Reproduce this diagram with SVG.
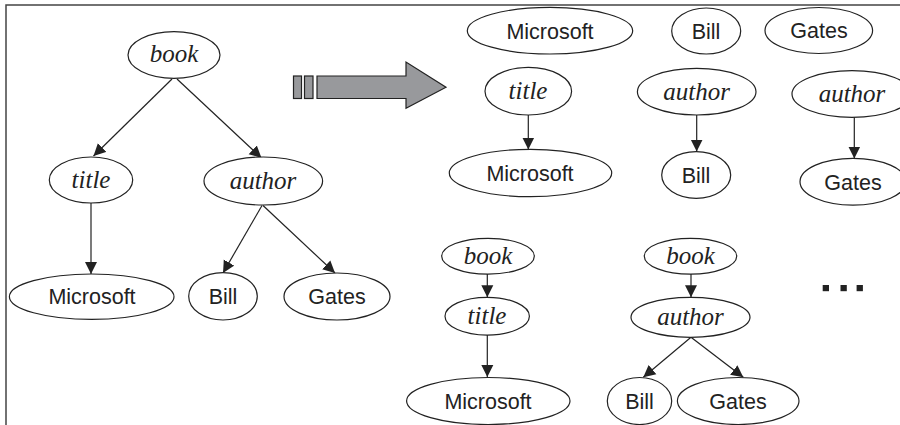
<svg xmlns="http://www.w3.org/2000/svg" width="900" height="425" viewBox="0 0 900 425">
<style>
  .n ellipse { fill: #fff; stroke: #222; stroke-width: 1.2; }
  .it { font-family: "Liberation Serif", "Times New Roman", serif; font-style: italic; font-size: 25px; fill: #222; text-anchor: middle; }
  .sn { font-family: "Liberation Sans", Arial, sans-serif; font-size: 21.5px; fill: #222; text-anchor: middle; }
  .e line { stroke: #222; stroke-width: 1.2; marker-end: url(#ah); }
  .arr { fill: #98999c; stroke: #222; stroke-width: 1.2; }
</style>
<defs>
  <marker id="ah" markerUnits="userSpaceOnUse" markerWidth="13" markerHeight="13" refX="12" refY="6.5" orient="auto">
    <path d="M0,0.5 L12,6.5 L0,12.5 z" fill="#222"/>
  </marker>
</defs>
<rect width="900" height="425" fill="#fff"/>
<g id="frame" stroke="#444" stroke-width="1.5" fill="none">
  <path d="M6,425 V5 H900"/>
</g>
<g id="bigarrow">
  <rect class="arr" x="293.5" y="76" width="8" height="22.5"/>
  <rect class="arr" x="304.5" y="76" width="8.5" height="22.5"/>
  <path class="arr" d="M317,76 H406 V62 L446,87.3 L406,108.3 V98.5 H317 Z"/>
</g>
<g id="connectors" class="e">
  <line x1="172" y1="79" x2="93.5" y2="156"/>
  <line x1="177" y1="79" x2="261.5" y2="158"/>
  <line x1="91" y1="203" x2="91" y2="274"/>
  <line x1="262" y1="205.5" x2="223" y2="273"/>
  <line x1="263" y1="205.5" x2="335" y2="273"/>
  <line x1="528.3" y1="115" x2="528.3" y2="149.5"/>
  <line x1="696.7" y1="115" x2="696.7" y2="151.5"/>
  <line x1="854.3" y1="117.3" x2="854.3" y2="158.5"/>
  <line x1="487.3" y1="274" x2="487.3" y2="297.3"/>
  <line x1="487.3" y1="335" x2="487.3" y2="377"/>
  <line x1="691" y1="274" x2="691" y2="297.3"/>
  <line x1="691" y1="337.3" x2="643.3" y2="377.3"/>
  <line x1="691" y1="337.3" x2="743.3" y2="377.3"/>
</g>
<g id="l-book" class="n"><ellipse cx="174" cy="55" rx="46" ry="23.3"/><text class="it" x="174" y="62">book</text></g>
<g id="l-title" class="n"><ellipse cx="91" cy="180" rx="41.7" ry="23"/><text class="it" x="91" y="188">title</text></g>
<g id="l-author" class="n"><ellipse cx="263.3" cy="181" rx="59.3" ry="24"/><text class="it" x="263" y="189">author</text></g>
<g id="l-microsoft" class="n"><ellipse cx="91.7" cy="296.7" rx="82.3" ry="22.7"/><text class="sn" x="92" y="304.3">Microsoft</text></g>
<g id="l-bill" class="n"><ellipse cx="223" cy="296.3" rx="34.3" ry="23.7"/><text class="sn" x="223" y="304.3">Bill</text></g>
<g id="l-gates" class="n"><ellipse cx="337" cy="296.5" rx="53" ry="23.5"/><text class="sn" x="337" y="304.3">Gates</text></g>

<g id="r-microsoft" class="n"><ellipse cx="550" cy="30.7" rx="82.7" ry="23.3"/><text class="sn" x="550" y="38.5">Microsoft</text></g>
<g id="r-bill" class="n"><ellipse cx="706.2" cy="31" rx="34.5" ry="23"/><text class="sn" x="706" y="38.7">Bill</text></g>
<g id="r-gates" class="n"><ellipse cx="818.8" cy="30.5" rx="53.8" ry="23"/><text class="sn" x="819" y="38.2">Gates</text></g>

<g id="r-title" class="n"><ellipse cx="528.3" cy="91.2" rx="43.3" ry="23.8"/><text class="it" x="528" y="99">title</text></g>
<g id="r-microsoft2" class="n"><ellipse cx="530.5" cy="173" rx="81.2" ry="23.7"/><text class="sn" x="530" y="180.7">Microsoft</text></g>
<g id="r-author1" class="n"><ellipse cx="696.7" cy="91.7" rx="59.3" ry="23.3"/><text class="it" x="696.7" y="99.5">author</text></g>
<g id="r-bill2" class="n"><ellipse cx="696.2" cy="175" rx="34.5" ry="23.3"/><text class="sn" x="696" y="182.7">Bill</text></g>
<g id="r-author2" class="n"><ellipse cx="852" cy="94" rx="60" ry="23.3"/><text class="it" x="852" y="102">author</text></g>
<g id="r-gates2" class="n"><ellipse cx="853" cy="181.7" rx="53" ry="23.4"/><text class="sn" x="853" y="189.5">Gates</text></g>

<g id="b-book1" class="n"><ellipse cx="488" cy="256.2" rx="46.3" ry="17.9"/><text class="it" x="488" y="263.5">book</text></g>
<g id="b-title1" class="n"><ellipse cx="487.2" cy="316.2" rx="42.2" ry="18.9"/><text class="it" x="487" y="324">title</text></g>
<g id="b-microsoft" class="n"><ellipse cx="488.3" cy="401" rx="81.7" ry="23.5"/><text class="sn" x="488" y="408.7">Microsoft</text></g>
<g id="b-book2" class="n"><ellipse cx="690.5" cy="256.2" rx="46.2" ry="17.9"/><text class="it" x="690.5" y="263.5">book</text></g>
<g id="b-author" class="n"><ellipse cx="690.5" cy="317.3" rx="59.5" ry="20"/><text class="it" x="690.5" y="325">author</text></g>
<g id="b-bill" class="n"><ellipse cx="639.5" cy="401" rx="32.2" ry="23.5"/><text class="sn" x="639.5" y="408.7">Bill</text></g>
<g id="b-gates" class="n"><ellipse cx="738.2" cy="401" rx="60.8" ry="23.5"/><text class="sn" x="738" y="408.7">Gates</text></g>

<g id="ellipsis" fill="#222">
  <rect x="822.7" y="285" width="6.3" height="6.2"/>
  <rect x="840.5" y="285" width="6.3" height="6.2"/>
  <rect x="856.6" y="285" width="6.3" height="6.2"/>
</g>
</svg>
